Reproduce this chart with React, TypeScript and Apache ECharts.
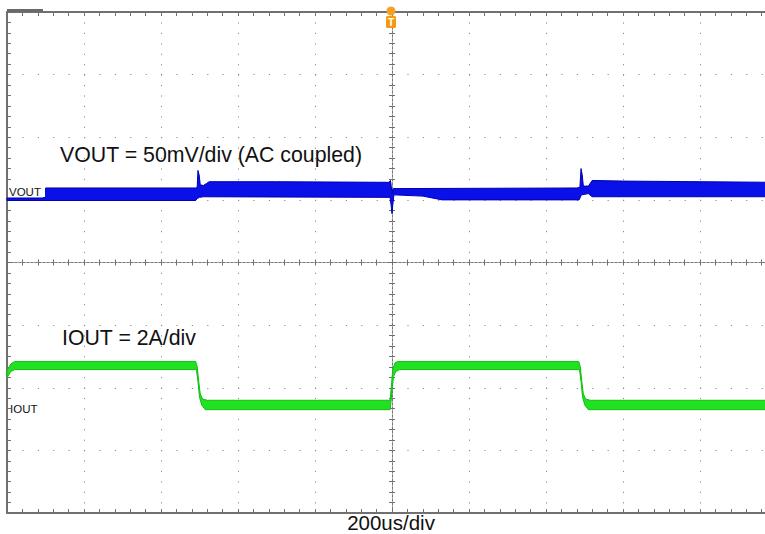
import React, { useEffect, useRef } from "react";
import * as echarts from "echarts";

// Time axis: microseconds relative to trigger, 200 us/div, 10 divisions
const timeMin = -1000;
const timeMax = 1000;
const timeDiv = 200;
// Vertical axis: screen divisions, 8 divisions
const divMin = -4;
const divMax = 4;

// VOUT trace envelope (time us, divisions) – 50 mV/div, AC coupled
const voutUpper: [number, number][] = [
  [-1000, 1.03], [-905, 1.03], [-900, 1.19], [-510, 1.19], [-506, 1.2],
  [-504, 1.47], [-501, 1.4], [-498, 1.24], [-490, 1.23], [-482, 1.26],
  [-475, 1.29], [-300, 1.29], [-8, 1.28], [-4, 1.31], [-2, 1.22],
  [0, 1.1], [3, 1.18], [480, 1.19], [488, 1.2], [491, 1.5], [494, 1.4],
  [497, 1.22], [510, 1.22], [520, 1.31], [600, 1.3], [1000, 1.28],
];
const voutLower: [number, number][] = [
  [-1000, 0.99], [-510, 0.99], [-506, 1.02], [-500, 1.04], [-490, 1.05],
  [-5, 1.04], [-2, 0.9], [0, 0.78], [2, 0.92], [5, 1.08], [80, 1.06],
  [130, 1.0], [486, 1.0], [492, 1.08], [510, 1.1], [520, 1.05], [1000, 1.05],
];

// IOUT trace envelope (time us, divisions) – 2 A/div
const ioutUpper: [number, number][] = [
  [-1000, -1.72], [-990, -1.62], [-980, -1.58], [-510, -1.58], [-506, -1.66],
  [-502, -1.9], [-498, -2.1], [-492, -2.18], [-480, -2.2], [-5, -2.2],
  [-2, -2.0], [2, -1.7], [8, -1.6], [15, -1.58], [485, -1.58], [489, -1.66],
  [493, -1.9], [497, -2.1], [503, -2.18], [515, -2.2], [1000, -2.2],
];
const ioutLower: [number, number][] = [
  [-1000, -1.84], [-990, -1.74], [-980, -1.71], [-508, -1.71], [-504, -1.9],
  [-500, -2.15], [-494, -2.28], [-485, -2.35], [-5, -2.35], [-3, -2.25],
  [0, -2.05], [4, -1.82], [10, -1.74], [20, -1.71], [487, -1.71],
  [491, -1.9], [495, -2.15], [501, -2.28], [510, -2.35], [1000, -2.35],
];

const voutTitle = "VOUT = 50mV/div (AC coupled)";
const ioutTitle = "IOUT = 2A/div";
const timeTitle = "200us/div";
const voutMarker = "VOUT";
const ioutMarker = "IOUT";

const FONT = '"Liberation Sans", Arial, sans-serif';

function bandSeries(name: string, upper: [number, number][], lower: [number, number][], fill: string, stroke: string) {
  return {
    type: "custom",
    name,
    xAxisIndex: 0,
    yAxisIndex: 0,
    data: [[0, 0]],
    silent: true,
    z: 5,
    renderItem: (_params: any, api: any) => {
      const pts = upper.map((p) => api.coord(p)).concat(lower.slice().reverse().map((p) => api.coord(p)));
      return {
        type: "polygon",
        shape: { points: pts },
        style: { fill, stroke, lineWidth: 1 },
      };
    },
  };
}

export default function App() {
  const ref = useRef<HTMLDivElement>(null);
  useEffect(() => {
    if (!ref.current) return;
    const chart = echarts.init(ref.current, undefined, { renderer: "svg" });
    const grid = { left: 7, top: 12, width: 770, height: 501, outerBoundsMode: "none", containLabel: false };
    const borderLine = { show: true, onZero: false, lineStyle: { color: "#707070", width: 2 } };
    const tickStyle = { color: "#707070", width: 1 };
    const dotColor = "#8c8c8c";
    const centerLine = { show: true, onZero: true, lineStyle: { color: "#777", width: 1, type: [2, 2] } };
    const option: any = {
      animation: false,
      backgroundColor: "#ffffff",
      grid: [grid, { ...grid }],
      xAxis: [
        {
          gridIndex: 0, type: "value", position: "bottom", min: timeMin, max: timeMax, interval: timeDiv,
          axisLine: borderLine, axisLabel: { show: false },
          axisTick: { show: true, inside: true, length: 4, lineStyle: tickStyle },
          minorTick: { show: true, splitNumber: 5, length: 4, lineStyle: tickStyle },
          splitLine: { show: true, lineStyle: { color: dotColor, width: 1, type: [1.2, 9.23] } },
        },
        {
          gridIndex: 0, type: "value", position: "top", min: timeMin, max: timeMax, interval: timeDiv,
          axisLine: borderLine, axisLabel: { show: false },
          axisTick: { show: true, inside: true, length: 4, lineStyle: tickStyle },
          minorTick: { show: true, splitNumber: 5, length: 4, lineStyle: tickStyle },
          splitLine: { show: false },
        },
        {
          gridIndex: 1, type: "value", position: "bottom", min: timeMin, max: timeMax, interval: timeDiv,
          axisLine: centerLine, axisLabel: { show: false },
          axisTick: { show: true, inside: false, length: 3, lineStyle: tickStyle },
          minorTick: { show: true, splitNumber: 5, length: 3, lineStyle: tickStyle },
          splitLine: { show: false },
        },
        {
          gridIndex: 1, type: "value", position: "top", min: timeMin, max: timeMax, interval: timeDiv,
          axisLine: centerLine, axisLabel: { show: false },
          axisTick: { show: true, inside: false, length: 3, lineStyle: tickStyle },
          minorTick: { show: true, splitNumber: 5, length: 3, lineStyle: tickStyle },
          splitLine: { show: false },
        },
      ],
      yAxis: [
        {
          gridIndex: 0, type: "value", position: "left", min: divMin, max: divMax, interval: 1,
          axisLine: borderLine, axisLabel: { show: false },
          axisTick: { show: true, inside: true, length: 4, lineStyle: tickStyle },
          minorTick: { show: true, splitNumber: 6, length: 4, lineStyle: tickStyle },
          splitLine: { show: true, lineStyle: { color: dotColor, width: 1, type: [1.2, 14.2] } },
        },
        {
          gridIndex: 1, type: "value", position: "left", min: divMin, max: divMax, interval: 1,
          axisLine: centerLine, axisLabel: { show: false },
          axisTick: { show: true, inside: false, length: 3, lineStyle: tickStyle },
          minorTick: { show: true, splitNumber: 6, length: 3, lineStyle: tickStyle },
          splitLine: { show: false },
        },
        {
          gridIndex: 1, type: "value", position: "right", min: divMin, max: divMax, interval: 1,
          axisLine: centerLine, axisLabel: { show: false },
          axisTick: { show: true, inside: false, length: 3, lineStyle: tickStyle },
          minorTick: { show: true, splitNumber: 6, length: 3, lineStyle: tickStyle },
          splitLine: { show: false },
        },
      ],
      series: [
        bandSeries("VOUT", voutUpper, voutLower, "#0a10e8", "#0000b0"),
        bandSeries("IOUT", ioutUpper, ioutLower, "#22e022", "#10c010"),
      ],
      graphic: [
        { type: "rect", z: 100, shape: { x: 7, y: 9, width: 36, height: 3 }, style: { fill: "#6a6a6a" } },
        { type: "circle", z: 100, shape: { cx: 391, cy: 11, r: 4.5 }, style: { fill: "#f5a020" } },
        { type: "rect", z: 100, shape: { x: 386, y: 16, width: 10, height: 12, r: 1.5 }, style: { fill: "#f59a10" } },
        { type: "text", z: 101, x: 391, y: 22.5, style: { text: "T", fill: "#ffffff", font: `bold 10px ${FONT}`, align: "center", verticalAlign: "middle" } },
        { type: "text", z: 100, x: 60, y: 155, style: { text: voutTitle, fill: "#111", font: `21.3px ${FONT}`, align: "left", verticalAlign: "middle" } },
        { type: "text", z: 100, x: 62, y: 338, style: { text: ioutTitle, fill: "#111", font: `21.3px ${FONT}`, align: "left", verticalAlign: "middle" } },
        { type: "text", z: 100, x: 391, y: 522.5, style: { text: timeTitle, fill: "#111", font: `20.5px ${FONT}`, align: "center", verticalAlign: "middle" } },
        { type: "rect", z: 100, shape: { x: 8, y: 186, width: 37, height: 11 }, style: { fill: "#ffffff" } },
        { type: "text", z: 101, x: 9, y: 192, style: { text: voutMarker, fill: "#111", font: `11.5px ${FONT}`, align: "left", verticalAlign: "middle" } },
        { type: "text", z: 101, x: 10, y: 409, style: { text: ioutMarker, fill: "#111", font: `11.5px ${FONT}`, align: "left", verticalAlign: "middle" } },
      ],
    };
    chart.setOption(option);
    return () => chart.dispose();
  }, []);
  return (
    <div
      ref={ref}
      style={{ position: "fixed", left: 0, top: 0, width: 765, height: 534, background: "#fff" }}
    />
  );
}
